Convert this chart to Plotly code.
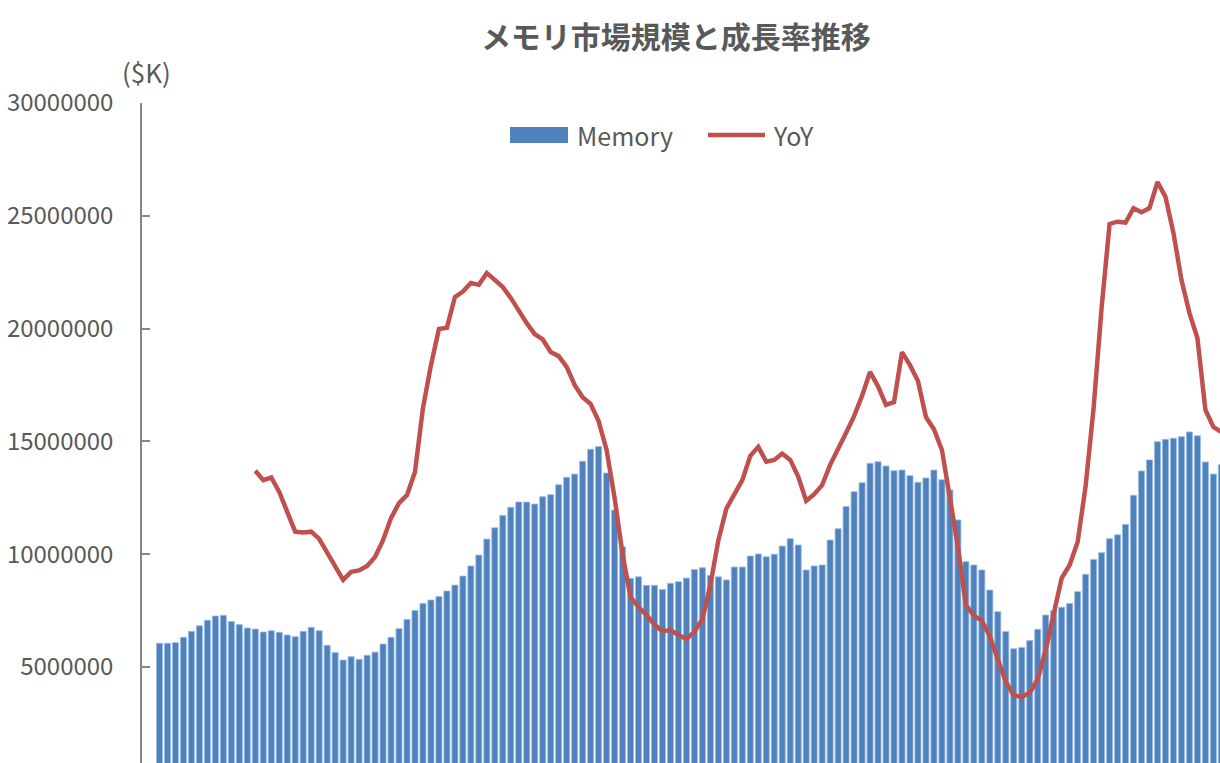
import plotly.graph_objects as go

# monthly index (x axis labels are cropped out of the picture)
months = list(range(134))

# memory market size, $K
memory_k = [
    6050000, 6050000, 6080000, 6320000, 6580000, 6830000, 7070000, 7260000, 7290000, 7020000,
    6880000, 6730000, 6680000, 6550000, 6610000, 6540000, 6420000, 6340000, 6580000, 6760000,
    6610000, 5960000, 5640000, 5310000, 5460000, 5340000, 5520000, 5660000, 6020000, 6320000,
    6700000, 7110000, 7500000, 7820000, 7970000, 8120000, 8370000, 8630000, 9030000, 9480000,
    9960000, 10670000, 11170000, 11720000, 12080000, 12310000, 12310000, 12220000, 12550000, 12640000,
    13080000, 13410000, 13550000, 14120000, 14650000, 14770000, 13600000, 11960000, 10330000, 8930000,
    9000000, 8620000, 8620000, 8440000, 8710000, 8780000, 8940000, 9320000, 9400000, 9060000,
    9000000, 8860000, 9430000, 9430000, 9920000, 10010000, 9890000, 10000000, 10360000, 10690000,
    10410000, 9300000, 9480000, 9520000, 10630000, 11130000, 12110000, 12770000, 13170000, 14030000,
    14100000, 13910000, 13700000, 13730000, 13480000, 13190000, 13380000, 13730000, 13300000, 12850000,
    11520000, 9670000, 9520000, 9300000, 8410000, 7450000, 6570000, 5810000, 5870000, 6170000,
    6670000, 7300000, 7500000, 7650000, 7820000, 8340000, 9110000, 9770000, 10070000, 10690000,
    10860000, 11320000, 12610000, 13690000, 14180000, 14990000, 15090000, 15140000, 15210000, 15420000,
    15250000, 14090000, 13550000, 13970000,
]

# YoY growth (%), starts one year after the first bar
yoy_months = months[12:]
yoy_pct = [
    18.5, 16.4, 17.0, 13.8, 9.4, 5.0, 4.8, 5.0, 3.4, 0.3,
    -2.4, -5.7, -3.9, -3.6, -2.6, -0.6, 3.1, 8.0, 11.3, 13.1,
    18.2, 32.4, 41.9, 49.9, 50.2, 57.0, 58.2, 60.1, 59.7, 62.3,
    60.8, 59.2, 56.8, 53.9, 51.2, 48.8, 47.6, 44.8, 43.9, 41.5,
    37.5, 34.8, 33.3, 29.5, 23.1, 12.5, 0.0, -9.5, -11.7, -13.5,
    -15.6, -17.1, -16.8, -17.9, -18.8, -17.2, -14.4, -6.8, 3.1, 10.1,
    13.2, 16.4, 21.8, 23.8, 20.5, 20.9, 22.3, 20.9, 17.2, 11.8,
    13.3, 15.3, 19.8, 23.1, 26.9, 30.6, 35.1, 40.4, 37.2, 33.1,
    33.7, 44.8, 41.9, 38.4, 30.4, 27.7, 23.1, 12.5, 1.6, -11.3,
    -13.6, -14.7, -18.2, -23.3, -28.3, -31.3, -31.6, -30.7, -27.7, -21.2,
    -13.3, -5.3, -2.4, 2.7, 15.1, 32.4, 54.6, 73.2, 73.7, 73.5,
    76.7, 75.8, 76.7, 82.5, 79.2, 71.2, 60.8, 53.5, 47.9, 32.0,
    28.2, 27.1,
]

y_ticks = [5000000, 10000000, 15000000, 20000000, 25000000, 30000000]
y_ticktext = [str(v) for v in y_ticks]

BLUE = "#4f81bd"
RED = "#c0504d"
GREY = "#595959"
FONT = "Noto Sans CJK JP"

fig = go.Figure()

fig.add_trace(
    go.Bar(
        x=months,
        y=memory_k,
        name="Memory",
        width=0.76,
        marker=dict(color=BLUE, line=dict(color="#9cbde6", width=0.8)),
        showlegend=False,
    )
)

fig.add_trace(
    go.Scatter(
        x=yoy_months,
        y=yoy_pct,
        name="YoY",
        mode="lines",
        line=dict(color=RED, width=4.5),
        yaxis="y2",
        showlegend=False,
    )
)

# hand-drawn legend to get Excel-style wide swatches
fig.add_shape(type="rect", xref="paper", yref="paper",
              x0=0.3414, x1=0.3952, y0=0.9394, y1=0.9636,
              fillcolor=BLUE, line=dict(width=0))
fig.add_annotation(text="Memory", xref="paper", yref="paper", x=0.4017, y=0.9515,
                   xanchor="left", yanchor="middle", showarrow=False,
                   font=dict(size=25, color=GREY, family=FONT))
fig.add_shape(type="line", xref="paper", yref="paper",
              x0=0.5250, x1=0.5779, y0=0.9515, y1=0.9515,
              line=dict(color=RED, width=4.5))
fig.add_annotation(text="YoY", xref="paper", yref="paper", x=0.5835, y=0.9515,
                   xanchor="left", yanchor="middle", showarrow=False,
                   font=dict(size=25, color=GREY, family=FONT))

# unit label above the axis
fig.add_annotation(text="($K)", xref="paper", yref="paper", x=0.0046, y=1.047,
                   xanchor="center", yanchor="middle", showarrow=False,
                   font=dict(size=26, color=GREY, family=FONT))

fig.update_layout(
    width=1220,
    height=763,
    margin=dict(l=142, r=0, t=103, b=0),
    paper_bgcolor="white",
    plot_bgcolor="white",
    font=dict(family=FONT, color=GREY),
    title=dict(
        text="<b>メモリ市場規模と成長率推移</b>",
        xref="container", yref="container",
        x=0.554, y=0.9515, xanchor="center", yanchor="middle",
        font=dict(size=30, color=GREY, family=FONT),
    ),
    xaxis=dict(visible=False, range=[-2.19, 132.83]),
    yaxis=dict(
        range=[745000, 30000000],
        tickvals=y_ticks,
        ticktext=y_ticktext,
        ticks="inside",
        ticklen=8,
        tickwidth=1.5,
        tickcolor="#868686",
        showline=True,
        linecolor="#868686",
        linewidth=1.5,
        showgrid=False,
        zeroline=False,
        ticklabelstandoff=22,
        tickfont=dict(size=24, color=GREY, family=FONT),
    ),
    yaxis2=dict(
        overlaying="y",
        side="right",
        range=[-46.275, 100],
        visible=False,
    ),
    bargap=0.24,
)

# drop the browser's default page margin so the figure sits at the window corner
fig.write_html(
    "out.html",
    config={"displayModeBar": False},
    post_script="document.body.style.margin='0';document.body.style.overflow='hidden';",
)
